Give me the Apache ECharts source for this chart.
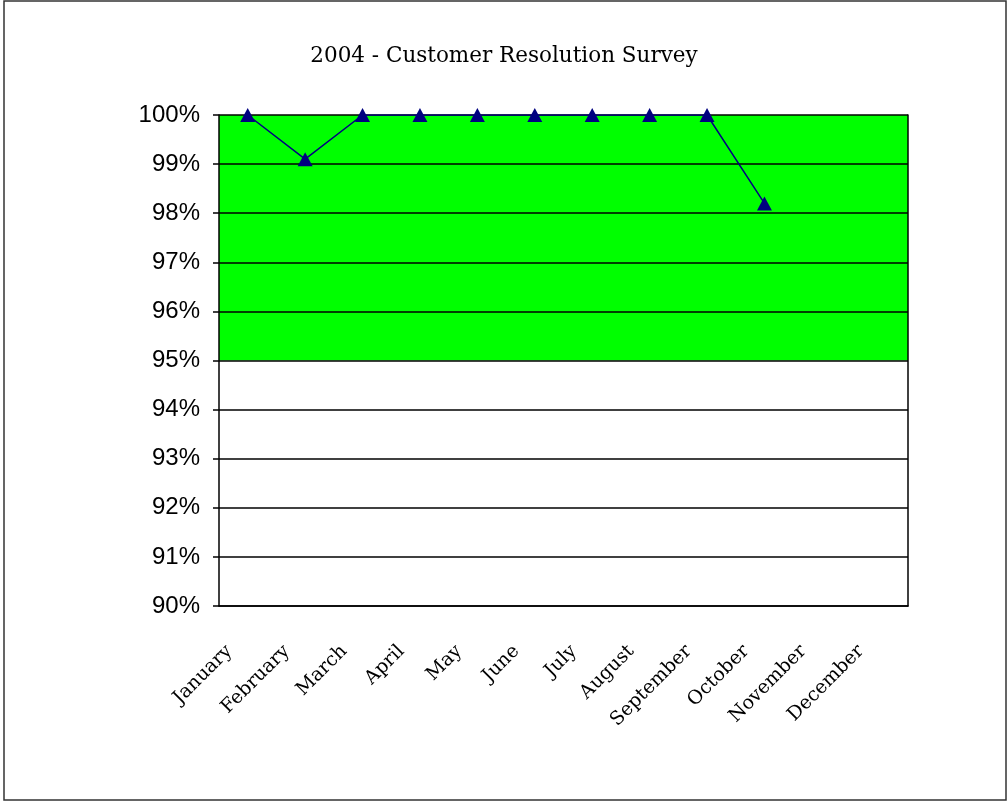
<!DOCTYPE html>
<html>
<head>
<meta charset="utf-8">
<script src="https://cdn.jsdelivr.net/npm/echarts@6/dist/echarts.min.js"></script>
<style>
html,body{margin:0;padding:0;background:#fff;}
#chart{width:1008px;height:802px;}
</style>
</head>
<body>
<div id="chart"></div>
<script>
var titleText = '2004 - Customer Resolution Survey';
var months = ['January','February','March','April','May','June','July','August','September','October','November','December'];
var resolution = [100, 99.1, 100, 100, 100, 100, 100, 100, 100, 98.2, null, null];
var bandRange = [95, 100];
var yMin = 90, yMax = 100, yStep = 1;

var chart = echarts.init(document.getElementById('chart'), null, {renderer:'canvas'});
chart.setOption({
  animation: false,
  backgroundColor: '#fff',
  title: {
    text: titleText,
    left: 'center',
    top: 40,
    textStyle: {fontFamily: 'DejaVu Serif', fontSize: 21.5, fontWeight: 'normal', color: '#000'}
  },
  graphic: [{
    type: 'rect',
    shape: {x: 4, y: 1, width: 1002, height: 799},
    style: {fill: 'none', stroke: '#333', lineWidth: 1.5},
    silent: true,
    z: 100
  }],
  grid: {left: 219, right: 100, top: 115, bottom: 196},
  xAxis: {
    type: 'category',
    data: months,
    boundaryGap: true,
    z: 3,
    axisLine: {show: true, lineStyle: {color: '#000', width: 1.5}},
    axisTick: {show: false},
    splitLine: {show: false},
    axisLabel: {
      interval: 0,
      rotate: 45,
      margin: 24,
      padding: [0, 26, 0, 0],
      fontFamily: 'DejaVu Serif',
      fontSize: 19,
      color: '#000'
    }
  },
  yAxis: [{
    type: 'value',
    min: yMin,
    max: yMax,
    interval: yStep,
    z: 3,
    axisLine: {show: true, lineStyle: {color: '#000', width: 1.5}},
    axisTick: {show: true, length: 6, lineStyle: {color: '#000', width: 1.5}},
    splitLine: {show: true, lineStyle: {color: '#000', width: 1.5}},
    axisLabel: {
      formatter: '{value}%',
      margin: 19,
      fontFamily: 'Liberation Sans',
      fontSize: 24,
      color: '#000'
    }
  }, {
    type: 'value',
    position: 'right',
    min: yMin,
    max: yMax,
    interval: yStep,
    z: 3,
    axisLine: {show: true, lineStyle: {color: '#000', width: 1.5}},
    axisTick: {show: false},
    axisLabel: {show: false},
    splitLine: {show: false}
  }],
  series: [{
    name: 'band',
    type: 'line',
    data: [],
    z: 1,
    silent: true,
    markArea: {
      silent: true,
      itemStyle: {color: '#00ff00', opacity: 1},
      data: [[{yAxis: bandRange[0]}, {yAxis: bandRange[1]}]]
    }
  }, {
    name: 'Resolution',
    type: 'line',
    data: resolution,
    z: 10,
    connectNulls: false,
    symbol: 'triangle',
    symbolSize: [15, 14],
    lineStyle: {color: '#000080', width: 1.5},
    itemStyle: {color: '#000080'}
  }]
});
</script>
</body>
</html>
